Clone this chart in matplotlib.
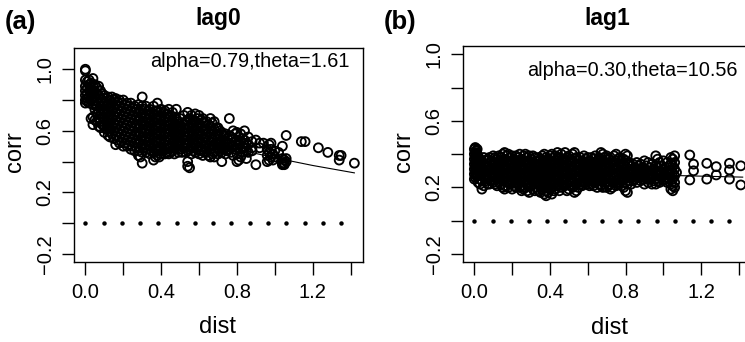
import numpy as np
import matplotlib
matplotlib.use("Agg")
import matplotlib.pyplot as plt

plt.rcParams['font.family'] = ['Liberation Sans', 'DejaVu Sans']

# ---------------- data: panel (a) lag0 ----------------
dist_a = [0.00, 0.01, 0.02, 0.03, 0.04, 0.05, 0.06, 0.07, 0.08, 0.09,
          0.10, 0.11, 0.12, 0.13, 0.14, 0.15, 0.16, 0.17, 0.18, 0.19,
          0.20, 0.21, 0.22, 0.23, 0.24, 0.25, 0.26, 0.27, 0.28, 0.29,
          0.30, 0.31, 0.32, 0.33, 0.34, 0.35, 0.36, 0.37, 0.38, 0.39,
          0.40, 0.41, 0.42, 0.43, 0.44, 0.45, 0.46, 0.47, 0.48, 0.49,
          0.50, 0.51, 0.52, 0.53, 0.54, 0.55, 0.56, 0.57, 0.58, 0.59,
          0.60, 0.61, 0.62, 0.63, 0.64, 0.65, 0.66, 0.67, 0.68, 0.69,
          0.70, 0.71, 0.72, 0.73, 0.74, 0.75, 0.76, 0.77, 0.78, 0.79,
          0.80, 0.81, 0.82, 0.83, 0.84, 0.85, 0.86, 0.88, 0.90, 0.92,
          0.94, 0.96, 0.97, 0.98, 0.99, 1.00, 1.02, 1.04, 1.05, 1.06,
          1.14, 1.16, 1.23, 1.28, 1.34, 1.35, 1.42]
corr_a = [
    [1.00, 0.99, 0.93, 0.89, 0.86, 0.83, 0.80, 0.78],
    [0.92, 0.88, 0.84, 0.81, 0.79],
    [0.93, 0.90, 0.86, 0.82, 0.78],
    [0.91, 0.87, 0.83, 0.80, 0.68],
    [0.94, 0.89, 0.85, 0.81, 0.77, 0.69, 0.64],
    [0.90, 0.86, 0.82, 0.78, 0.74, 0.67],
    [0.88, 0.84, 0.80, 0.76, 0.71, 0.66],
    [0.89, 0.83, 0.78, 0.73, 0.68, 0.63],
    [0.86, 0.81, 0.76, 0.71, 0.66, 0.62],
    [0.84, 0.79, 0.74, 0.69, 0.64],
    [0.83, 0.78, 0.73, 0.68, 0.63, 0.59],
    [0.81, 0.76, 0.71, 0.66, 0.61],
    [0.82, 0.77, 0.72, 0.67, 0.62, 0.57],
    [0.80, 0.75, 0.70, 0.65, 0.60, 0.56],
    [0.82, 0.78, 0.73, 0.68, 0.63, 0.58],
    [0.80, 0.75, 0.70, 0.65, 0.60, 0.55],
    [0.81, 0.77, 0.72, 0.67, 0.62, 0.57, 0.51],
    [0.79, 0.74, 0.69, 0.64, 0.59, 0.54],
    [0.80, 0.76, 0.71, 0.66, 0.61, 0.56, 0.52],
    [0.78, 0.73, 0.68, 0.63, 0.58, 0.53],
    [0.80, 0.75, 0.70, 0.65, 0.60, 0.55, 0.50],
    [0.77, 0.72, 0.67, 0.62, 0.57, 0.52],
    [0.78, 0.74, 0.69, 0.64, 0.59, 0.54, 0.50],
    [0.76, 0.71, 0.66, 0.61, 0.56, 0.51],
    [0.78, 0.73, 0.68, 0.63, 0.58, 0.53, 0.48],
    [0.75, 0.70, 0.65, 0.60, 0.55, 0.50],
    [0.76, 0.72, 0.67, 0.62, 0.57, 0.52, 0.47],
    [0.74, 0.69, 0.64, 0.59, 0.54, 0.49],
    [0.77, 0.72, 0.67, 0.62, 0.57, 0.52, 0.47, 0.44],
    [0.74, 0.69, 0.64, 0.59, 0.54, 0.49, 0.43],
    [0.82, 0.76, 0.71, 0.66, 0.61, 0.56, 0.51, 0.46, 0.39],
    [0.74, 0.69, 0.64, 0.59, 0.54, 0.49],
    [0.76, 0.71, 0.66, 0.61, 0.56, 0.51, 0.46],
    [0.73, 0.68, 0.63, 0.58, 0.53, 0.48],
    [0.74, 0.70, 0.65, 0.60, 0.55, 0.50, 0.45],
    [0.72, 0.67, 0.62, 0.57, 0.52, 0.47],
    [0.76, 0.71, 0.66, 0.61, 0.56, 0.51, 0.46, 0.41],
    [0.73, 0.68, 0.63, 0.58, 0.53, 0.48, 0.43],
    [0.78, 0.73, 0.68, 0.63, 0.58, 0.53, 0.48, 0.44],
    [0.72, 0.67, 0.62, 0.57, 0.52, 0.47, 0.43],
    [0.74, 0.69, 0.64, 0.59, 0.54, 0.49, 0.45],
    [0.72, 0.67, 0.62, 0.57, 0.52, 0.47],
    [0.73, 0.68, 0.63, 0.58, 0.53, 0.48, 0.45],
    [0.71, 0.66, 0.61, 0.56, 0.51, 0.46],
    [0.74, 0.69, 0.64, 0.59, 0.54, 0.49, 0.45],
    [0.70, 0.65, 0.60, 0.55, 0.50, 0.46],
    [0.72, 0.67, 0.62, 0.57, 0.52, 0.47],
    [0.69, 0.64, 0.59, 0.54, 0.49, 0.45],
    [0.74, 0.68, 0.63, 0.58, 0.53, 0.48],
    [0.66, 0.61, 0.56, 0.51, 0.46],
    [0.68, 0.63, 0.58, 0.53, 0.48],
    [0.65, 0.60, 0.55, 0.50, 0.46],
    [0.70, 0.64, 0.59, 0.54, 0.49],
    [0.66, 0.61, 0.56, 0.51, 0.46],
    [0.72, 0.67, 0.62, 0.57, 0.52, 0.47, 0.40, 0.37],
    [0.68, 0.63, 0.58, 0.53, 0.48, 0.36],
    [0.70, 0.65, 0.60, 0.55, 0.50, 0.45],
    [0.67, 0.62, 0.57, 0.52, 0.47],
    [0.71, 0.66, 0.61, 0.56, 0.51, 0.46],
    [0.68, 0.63, 0.58, 0.53, 0.48],
    [0.70, 0.65, 0.60, 0.55, 0.50, 0.45],
    [0.67, 0.62, 0.57, 0.52, 0.47],
    [0.68, 0.63, 0.58, 0.53, 0.48, 0.44],
    [0.65, 0.60, 0.55, 0.50, 0.46],
    [0.66, 0.61, 0.56, 0.51, 0.47],
    [0.64, 0.59, 0.54, 0.49, 0.44],
    [0.68, 0.63, 0.58, 0.53, 0.48, 0.43],
    [0.65, 0.60, 0.55, 0.50, 0.45],
    [0.66, 0.61, 0.56, 0.51, 0.46, 0.43],
    [0.62, 0.57, 0.52, 0.47],
    [0.62, 0.58, 0.53, 0.49, 0.45],
    [0.60, 0.55, 0.51, 0.47],
    [0.59, 0.54, 0.50, 0.46, 0.40],
    [0.57, 0.52, 0.48],
    [0.58, 0.53, 0.49, 0.45],
    [0.55, 0.51, 0.47],
    [0.68, 0.57, 0.52, 0.48],
    [0.56, 0.50, 0.46],
    [0.60, 0.55, 0.50, 0.44],
    [0.58, 0.53, 0.48],
    [0.59, 0.54, 0.49, 0.45, 0.40],
    [0.56, 0.51, 0.41],
    [0.58, 0.53, 0.48, 0.43],
    [0.55, 0.50, 0.46],
    [0.60, 0.54, 0.49],
    [0.52, 0.47, 0.42],
    [0.56, 0.51, 0.46],
    [0.53, 0.49, 0.47],
    [0.54, 0.38],
    [0.52, 0.49],
    [0.52],
    [0.48, 0.40, 0.44],
    [0.51, 0.41, 0.46],
    [0.52, 0.48, 0.43],
    [0.41, 0.45],
    [0.47, 0.43],
    [0.46],
    [0.50, 0.42, 0.39, 0.38],
    [0.41, 0.39, 0.38],
    [0.57, 0.42, 0.40],
    [0.53], [0.53], [0.49], [0.46], [0.44, 0.41], [0.44], [0.39],
]
fit_dist_a = [0.0, 0.2, 0.4, 0.6, 0.8, 1.0, 1.2, 1.42]
fit_corr_a = [0.790, 0.698, 0.616, 0.544, 0.481, 0.425, 0.375, 0.327]

# ---------------- data: panel (b) lag1 ----------------
dist_b = [0.000, 0.005, 0.010, 0.015, 0.02, 0.03, 0.04, 0.05, 0.06, 0.07,
          0.08, 0.09, 0.10, 0.11, 0.12, 0.13, 0.14, 0.15, 0.16, 0.17,
          0.18, 0.19, 0.20, 0.21, 0.22, 0.23, 0.24, 0.25, 0.26, 0.27,
          0.28, 0.29, 0.30, 0.31, 0.32, 0.33, 0.34, 0.35, 0.36, 0.37,
          0.38, 0.39, 0.40, 0.41, 0.42, 0.43, 0.44, 0.45, 0.46, 0.47,
          0.48, 0.49, 0.50, 0.51, 0.52, 0.53, 0.54, 0.55, 0.56, 0.57,
          0.58, 0.59, 0.60, 0.61, 0.62, 0.63, 0.64, 0.65, 0.66, 0.67,
          0.68, 0.69, 0.70, 0.71, 0.72, 0.73, 0.74, 0.75, 0.76, 0.77,
          0.78, 0.79, 0.80, 0.81, 0.82, 0.83, 0.84, 0.85, 0.86, 0.87,
          0.88, 0.89, 0.90, 0.91, 0.92, 0.93, 0.94, 0.95, 0.96, 0.97,
          0.98, 0.99, 1.00, 1.01, 1.02, 1.03, 1.04, 1.05, 1.06, 1.07,
          1.14, 1.16, 1.23, 1.28, 1.35, 1.41]
corr_b = [
    [0.43, 0.40, 0.37, 0.34, 0.31, 0.28, 0.25],
    [0.44, 0.41, 0.38, 0.35, 0.32, 0.29, 0.26],
    [0.42, 0.39, 0.36, 0.33, 0.30, 0.27],
    [0.43, 0.40, 0.37, 0.34, 0.31, 0.28],
    [0.39, 0.35, 0.31, 0.27, 0.23],
    [0.37, 0.33, 0.29, 0.25, 0.22],
    [0.36, 0.32, 0.28, 0.24, 0.19],
    [0.38, 0.34, 0.30, 0.26, 0.21],
    [0.36, 0.32, 0.28, 0.24],
    [0.37, 0.33, 0.29, 0.25, 0.22],
    [0.38, 0.34, 0.30, 0.26, 0.22],
    [0.36, 0.32, 0.28, 0.24],
    [0.39, 0.35, 0.31, 0.27, 0.23],
    [0.38, 0.34, 0.30, 0.26, 0.22],
    [0.37, 0.33, 0.29, 0.25, 0.21],
    [0.39, 0.35, 0.31, 0.27, 0.23],
    [0.38, 0.34, 0.30, 0.26, 0.22],
    [0.40, 0.36, 0.32, 0.28, 0.24, 0.20],
    [0.41, 0.37, 0.33, 0.29, 0.25, 0.21, 0.19],
    [0.39, 0.35, 0.31, 0.27, 0.23],
    [0.40, 0.36, 0.32, 0.28, 0.24, 0.20],
    [0.38, 0.34, 0.30, 0.26, 0.22],
    [0.39, 0.35, 0.31, 0.27, 0.23, 0.19],
    [0.37, 0.33, 0.29, 0.25, 0.21],
    [0.39, 0.35, 0.31, 0.27, 0.23, 0.20],
    [0.38, 0.34, 0.30, 0.26, 0.22],
    [0.40, 0.36, 0.32, 0.28, 0.24, 0.20],
    [0.37, 0.33, 0.29, 0.25, 0.21, 0.18],
    [0.39, 0.35, 0.31, 0.27, 0.23, 0.19],
    [0.40, 0.36, 0.32, 0.28, 0.24, 0.20],
    [0.38, 0.34, 0.30, 0.26, 0.22, 0.18],
    [0.39, 0.35, 0.31, 0.27, 0.23, 0.17],
    [0.37, 0.33, 0.29, 0.25, 0.21],
    [0.39, 0.35, 0.31, 0.27, 0.23, 0.19],
    [0.38, 0.34, 0.30, 0.26, 0.22, 0.18],
    [0.36, 0.32, 0.28, 0.24, 0.20],
    [0.38, 0.34, 0.30, 0.26, 0.22, 0.18],
    [0.37, 0.33, 0.29, 0.25, 0.21, 0.17],
    [0.39, 0.35, 0.31, 0.27, 0.23, 0.19],
    [0.40, 0.36, 0.32, 0.28, 0.24, 0.20, 0.16],
    [0.38, 0.34, 0.30, 0.26, 0.22, 0.18, 0.15],
    [0.37, 0.33, 0.29, 0.25, 0.21, 0.17],
    [0.39, 0.35, 0.31, 0.27, 0.23, 0.19],
    [0.40, 0.36, 0.32, 0.28, 0.24, 0.20, 0.16],
    [0.38, 0.34, 0.30, 0.26, 0.22, 0.18],
    [0.39, 0.35, 0.31, 0.27, 0.23, 0.19],
    [0.41, 0.37, 0.33, 0.29, 0.25, 0.21],
    [0.38, 0.34, 0.30, 0.26, 0.22, 0.18],
    [0.40, 0.36, 0.32, 0.28, 0.24, 0.20],
    [0.37, 0.33, 0.29, 0.25, 0.21],
    [0.41, 0.37, 0.33, 0.29, 0.25, 0.21],
    [0.38, 0.34, 0.30, 0.26, 0.22, 0.18],
    [0.39, 0.35, 0.31, 0.27, 0.23, 0.19],
    [0.37, 0.33, 0.29, 0.25, 0.21],
    [0.40, 0.36, 0.32, 0.28, 0.24, 0.20],
    [0.41, 0.37, 0.33, 0.29, 0.25, 0.21, 0.17],
    [0.38, 0.34, 0.30, 0.26, 0.22, 0.18],
    [0.36, 0.32, 0.28, 0.24, 0.20],
    [0.38, 0.34, 0.30, 0.26, 0.22],
    [0.36, 0.32, 0.28, 0.24, 0.21],
    [0.39, 0.35, 0.31, 0.27, 0.23],
    [0.37, 0.33, 0.29, 0.25, 0.22],
    [0.38, 0.34, 0.30, 0.26, 0.22],
    [0.36, 0.32, 0.28, 0.24, 0.21],
    [0.38, 0.34, 0.30, 0.26, 0.22],
    [0.37, 0.33, 0.29, 0.25, 0.21],
    [0.39, 0.35, 0.31, 0.27, 0.23],
    [0.36, 0.32, 0.28, 0.24, 0.20],
    [0.38, 0.34, 0.30, 0.26, 0.22],
    [0.41, 0.37, 0.33, 0.29, 0.25, 0.21],
    [0.40, 0.36, 0.32, 0.28, 0.24, 0.20],
    [0.38, 0.34, 0.30, 0.26, 0.22],
    [0.39, 0.35, 0.31, 0.27, 0.23, 0.20],
    [0.37, 0.33, 0.29, 0.25, 0.21],
    [0.38, 0.34, 0.30, 0.26, 0.22, 0.19],
    [0.36, 0.32, 0.28, 0.24, 0.20],
    [0.39, 0.35, 0.31, 0.27, 0.23],
    [0.40, 0.36, 0.32, 0.28, 0.24, 0.21],
    [0.37, 0.33, 0.29, 0.25, 0.22],
    [0.38, 0.34, 0.30, 0.26, 0.23],
    [0.36, 0.32, 0.28, 0.24, 0.21],
    [0.37, 0.33, 0.29, 0.25, 0.20],
    [0.40, 0.36, 0.31, 0.27, 0.23, 0.18],
    [0.39, 0.34, 0.30, 0.26, 0.22, 0.17],
    [0.35, 0.31, 0.28, 0.24],
    [0.33, 0.29, 0.26, 0.22],
    [0.34, 0.30, 0.27, 0.24],
    [0.32, 0.28, 0.25],
    [0.35, 0.31, 0.27, 0.23],
    [0.33, 0.29, 0.26],
    [0.34, 0.30, 0.27, 0.24],
    [0.32, 0.28, 0.25],
    [0.36, 0.31, 0.27, 0.22],
    [0.33, 0.29, 0.25],
    [0.35, 0.30, 0.26, 0.23],
    [0.32, 0.28, 0.25],
    [0.34, 0.30, 0.26, 0.22],
    [0.31, 0.27, 0.24],
    [0.39, 0.33, 0.29, 0.25, 0.22],
    [0.37, 0.32, 0.28, 0.24],
    [0.35, 0.30, 0.27, 0.23],
    [0.33, 0.29, 0.26],
    [0.36, 0.31, 0.27, 0.24],
    [0.32, 0.28, 0.25],
    [0.35, 0.30, 0.26, 0.23],
    [0.33, 0.29, 0.25],
    [0.38, 0.34, 0.30, 0.26, 0.22, 0.19],
    [0.37, 0.33, 0.29, 0.25, 0.21, 0.18],
    [0.39, 0.35, 0.31, 0.27, 0.23, 0.20],
    [0.29],
    [0.395, 0.245], [0.34, 0.30], [0.345, 0.25], [0.325, 0.275],
    [0.345, 0.305, 0.25], [0.33, 0.215],
]
fit_dist_b = [0.0, 0.35, 0.70, 1.05, 1.42]
fit_corr_b = [0.300, 0.290, 0.281, 0.272, 0.262]

# zero reference dots (bin positions)
zero_dist = [0.0, 0.0964, 0.1928, 0.2892, 0.3856, 0.482, 0.5784, 0.6748,
             0.7712, 0.8676, 0.964, 1.0604, 1.1568, 1.2532, 1.3496]
zero_corr = [0.0] * 15

x_ticks = [0.0, 0.2, 0.4, 0.6, 0.8, 1.0, 1.2, 1.4]
x_labels = ["0.0", "", "0.4", "", "0.8", "", "1.2", ""]
y_ticks = [-0.2, 0.0, 0.2, 0.4, 0.6, 0.8, 1.0]
y_labels = ["\u22120.2", "", "0.2", "", "0.6", "", "1.0"]

W, H = 745, 342
fig = plt.figure(figsize=(W / 100, H / 100), dpi=100)


def px_axes(l, t, r, b):
    return fig.add_axes([l / W, 1 - b / H, (r - l) / W, (b - t) / H])


def draw(ax, dists, corrs, fd, fc, ylim, note, note_xy):
    xs = np.concatenate([[d] * len(c) for d, c in zip(dists, corrs)])
    ys = np.concatenate([c for c in corrs])
    ax.scatter(xs, ys, s=6.4 ** 2, facecolors='none', edgecolors='black',
               linewidths=1.35, zorder=2)
    ax.plot(fd, fc, color='black', lw=0.8, zorder=3)
    ax.plot(zero_dist, zero_corr, 'o', color='black', ms=3.2, mew=0, zorder=3)
    ax.set_xlim(-0.06, 1.464)
    ax.set_ylim(*ylim)
    ax.set_xticks(x_ticks)
    ax.set_xticklabels(x_labels)
    ax.set_yticks(y_ticks)
    ax.set_yticklabels(y_labels, rotation=90, va='center')
    ax.tick_params(axis='both', direction='out', length=9, width=1.0,
                   labelsize=14.5, color='black')
    ax.tick_params(axis='x', pad=6)
    ax.tick_params(axis='y', pad=5)
    for s in ax.spines.values():
        s.set_linewidth(1.0)
    ax.text(note_xy[0], note_xy[1], note, fontsize=14.3, ha='center',
            va='baseline')


ax1 = px_axes(74, 48, 362.7, 261.7)
draw(ax1, dist_a, corr_a, fit_dist_a, fit_corr_a, (-0.25, 1.138),
     "alpha=0.79,theta=1.61", (0.87, 1.017))
ax2 = px_axes(463, 46, 751, 262)
draw(ax2, dist_b, corr_b, fit_dist_b, fit_corr_b, (-0.248, 1.05),
     "alpha=0.30,theta=10.56", (0.838, 0.87))

# titles, panel letters, axis labels
fig.text(218.3 / W, 1 - 19 / H, "lag0", fontsize=16.5, fontweight='bold',
         ha='center', va='center')
fig.text(607 / W, 1 - 19 / H, "lag1", fontsize=16.5, fontweight='bold',
         ha='center', va='center')
fig.text(20 / W, 1 - 22 / H, "(a)", fontsize=18.5, fontweight='bold',
         ha='center', va='center')
fig.text(400 / W, 1 - 22 / H, "(b)", fontsize=18.5, fontweight='bold',
         ha='center', va='center')
fig.text(218 / W, 1 - 327 / H, "dist", fontsize=17, ha='center', va='center')
fig.text(610 / W, 1 - 328 / H, "dist", fontsize=17, ha='center', va='center')
fig.text(15 / W, 1 - 152 / H, "corr", fontsize=17, ha='center', va='center',
         rotation=90)
fig.text(404 / W, 1 - 152 / H, "corr", fontsize=17, ha='center', va='center',
         rotation=90)

fig.savefig("out.png", dpi=100)
